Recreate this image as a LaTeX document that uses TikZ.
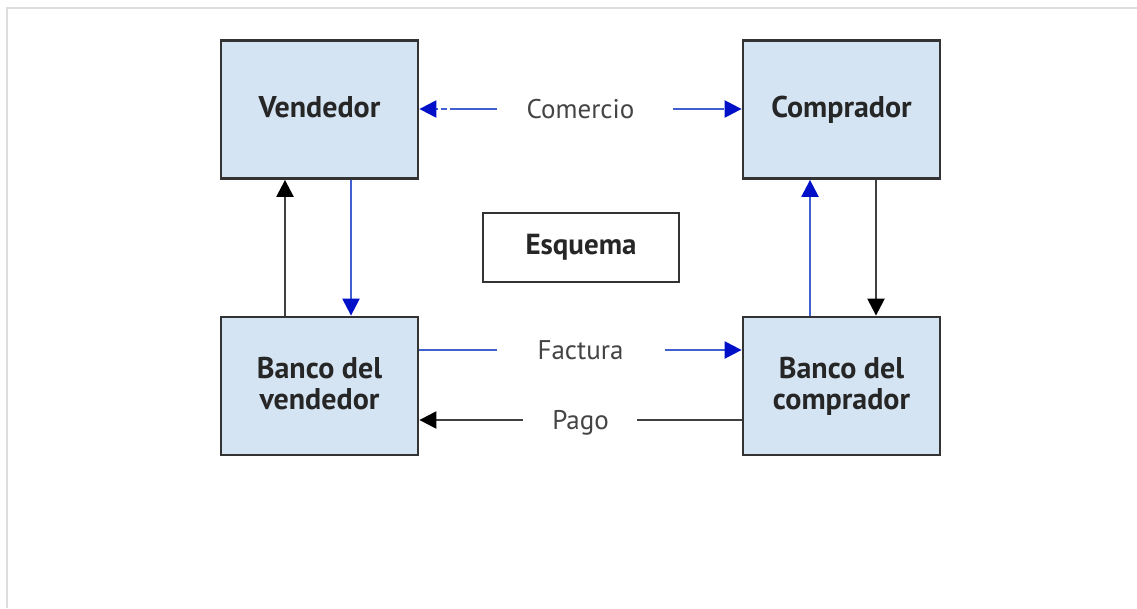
\documentclass[tikz,border=0pt]{standalone}
\usepackage{fontspec}
\setmainfont{PT Sans}
\usetikzlibrary{arrows.meta}
\definecolor{boxfill}{HTML}{D4E4F3}
\definecolor{boxdraw}{HTML}{333333}
\definecolor{lblue}{HTML}{4060D0}
\definecolor{hblue}{HTML}{0010C8}
\definecolor{ltext}{HTML}{444444}
\definecolor{frame}{HTML}{DDDDDD}
\newcommand{\lnst}{\rule[-0.25em]{0pt}{1em}}
\tikzset{
  party/.style={draw=boxdraw, line width=2.8pt, fill=boxfill, minimum width=197pt, minimum height=138pt, inner sep=0pt, font=\fontsize{30}{31}\selectfont\bfseries, text=black!85, align=center},
  center box/.style={draw=boxdraw, line width=2.8pt, fill=white, minimum width=196pt, minimum height=69pt, inner sep=0pt, font=\fontsize{29}{30}\selectfont\bfseries, text=black!85},
  lbl/.style={font=\fontsize{27}{30}\selectfont, text=ltext, inner sep=0pt},
  bline/.style={draw=lblue, line width=2.4pt},
  kline/.style={draw=black!75, line width=2.4pt},
  bhead/.style={-{Triangle[length=17pt,width=17pt,color=hblue]}},
  khead/.style={-{Triangle[length=17pt,width=17pt,color=black]}},
}
\begin{document}
\begin{tikzpicture}[x=1pt,y=-1pt]
\useasboundingbox (0,0) rectangle (1137,608);
\fill[white] (0,0) rectangle (1137,608);
\draw[frame, line width=2pt] (7,608) -- (7,8) -- (1137,8);

\node[party] (V) at (319.5,109.5) {\lnst Vendedor};
\node[party] (C) at (841.5,109.5) {\lnst Comprador};
\node[party] (BV) at (319.5,386) {\lnst Banco del\\\lnst vendedor};
\node[party] (BC) at (841.5,386) {\lnst Banco del\\\lnst comprador};
\node[center box] (E) at (581,247.5) {\lnst Esquema};

\node[lbl] (com) at (580.5,112) {\lnst Comercio};
\node[lbl] (fac) at (580.5,353) {\lnst Factura};
\node[lbl] (pag) at (580.5,423) {\lnst Pago};

% Comercio
\coordinate (c1) at (497,109);
\coordinate (c1b) at (452,109);
\coordinate (c2) at (673,109);
\coordinate (c2b) at (718,109);
\draw[bline] (c1) -- (c1b);
\draw[bline, bhead, dash pattern=on 2pt off 3pt on 6pt off 3pt] (c1b) -- (V.east |- c1b);
\draw[bline] (c2) -- (c2b);
\draw[bline, bhead, dash pattern=on 6pt off 3pt on 2pt off 3pt] (c2b) -- (C.west |- c2b);

% Factura
\coordinate (f1) at (497,350);
\coordinate (f2) at (665,350);
\draw[bline] (BV.east |- f1) -- (f1);
\draw[bline, bhead] (f2) -- (BC.west |- f2);

% Pago
\coordinate (p1) at (523,420);
\coordinate (p2) at (637,420);
\draw[kline, khead] (p1) -- (BV.east |- p1);
\draw[kline] (p2) -- (BC.west |- p2);

% Verticals
\coordinate (xl1) at (285,0);
\coordinate (xl2) at (351,0);
\coordinate (xr1) at (810,0);
\coordinate (xr2) at (876,0);
\draw[kline, khead] (xl1 |- BV.north) -- (xl1 |- V.south);
\draw[bline, bhead] (xl2 |- V.south) -- (xl2 |- BV.north);
\draw[bline, bhead] (xr1 |- BC.north) -- (xr1 |- C.south);
\draw[kline, khead] (xr2 |- C.south) -- (xr2 |- BC.north);
\end{tikzpicture}
\end{document}
